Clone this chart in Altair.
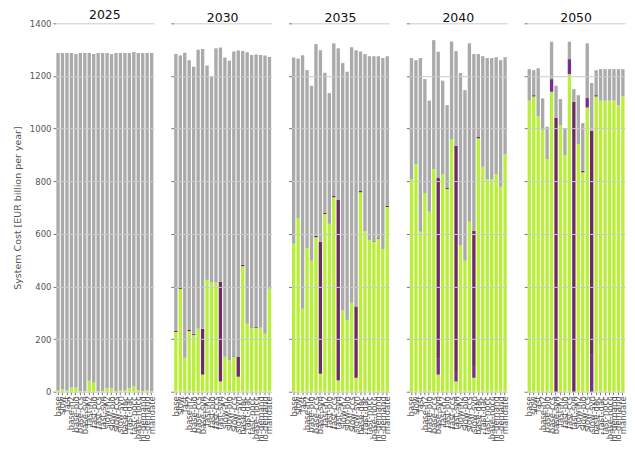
import altair as alt
import pandas as pd

years = ["2025", "2030", "2035", "2040", "2050"]
scenarios = ["base", "slow", "fast", "base-h2", "base-bio", "base-ccs", "base-syn",
             "fast-h2", "fast-bio", "fast-ccs", "fast-syn", "slow-h2", "slow-bio",
             "slow-ccs", "slow-syn", "base-dac", "fast-dac", "fast-nocc",
             "base-nocc", "hi-demand", "lo-demand", "mandate"]
components = ["Renewables", "Carbon capture", "Synthetic fuels", "Other costs"]
colors = ["#b9ef3a", "#7b2d8c", "#6c2c63", "#aaaaaa"]

totals = {
    "2025": [1287, 1287, 1287, 1287, 1283, 1287, 1287, 1287, 1283, 1287, 1287, 1287, 1283,
             1287, 1287, 1287, 1287, 1291, 1287, 1287, 1287, 1287],
    "2030": [1283, 1278, 1288, 1260, 1235, 1300, 1302, 1240, 1198, 1305, 1308, 1270, 1258,
             1293, 1297, 1295, 1290, 1280, 1282, 1280, 1278, 1272],
    "2035": [1270, 1266, 1279, 1222, 1163, 1321, 1298, 1212, 1135, 1324, 1305, 1249, 1216,
             1309, 1298, 1293, 1283, 1275, 1275, 1275, 1268, 1275],
    "2040": [1268, 1260, 1268, 1188, 1106, 1336, 1292, 1182, 1089, 1331, 1294, 1211, 1146,
             1324, 1283, 1283, 1275, 1268, 1268, 1271, 1260, 1271],
    "2050": [1226, 1222, 1229, 1115, 1007, 1330, 1163, 1112, 1001, 1330, 1150, 1127, 1021,
             1324, 1173, 1222, 1226, 1226, 1226, 1226, 1226, 1226],
}
green = {
    "2025": [5, 9, 5, 16, 16, 2, 2, 42, 35, 3, 3, 13, 13, 2, 5, 5, 13, 20, 6, 3, 6, 3],
    "2030": [227, 391, 129, 230, 216, 239, 65, 425, 415, 415, 39, 133, 119, 134, 57, 477,
             258, 240, 243, 243, 220, 391],
    "2035": [562, 660, 315, 546, 498, 587, 68, 675, 638, 739, 43, 309, 273, 338, 53, 758,
             610, 577, 571, 582, 545, 702],
    "2040": [808, 865, 608, 755, 684, 846, 65, 827, 770, 960, 39, 558, 498, 646, 53, 963,
             855, 808, 808, 827, 779, 903],
    "2050": [1106, 1122, 1046, 995, 884, 1140, 0, 1013, 899, 1207, 0, 941, 834, 1080, 0,
             1122, 1106, 1106, 1106, 1106, 1089, 1122],
}
violet = {
    "2025": [0] * 22,
    "2030": [0] * 22,
    "2035": [0] * 22,
    "2040": [0, 0, 0, 0, 0, 0, 60, 0, 0, 0, 40, 0, 0, 0, 45, 0, 0, 0, 0, 0, 0, 0],
    "2050": [0, 0, 0, 0, 0, 48, 0, 0, 0, 57, 0, 0, 0, 36, 140, 0, 0, 0, 0, 0, 0, 0],
}
purple = {
    "2025": [0] * 22,
    "2030": [5, 7, 0, 5, 4, 0, 174, 0, 0, 0, 379, 0, 0, 3, 76, 5, 0, 0, 4, 0, 0, 0],
    "2035": [0, 0, 0, 0, 0, 6, 502, 5, 0, 5, 686, 0, 0, 0, 271, 5, 0, 0, 2, 2, 3, 5],
    "2040": [0, 0, 0, 0, 0, 0, 687, 0, 4, 0, 856, 0, 0, 0, 514, 5, 0, 0, 0, 0, 0, 0],
    "2050": [0, 5, 0, 0, 0, 0, 1040, 0, 0, 0, 1102, 0, 5, 0, 852, 5, 0, 0, 0, 0, 0, 0],
}

rows = []
for yr in years:
    for i, sc in enumerate(scenarios):
        g, v, p = green[yr][i], violet[yr][i], purple[yr][i]
        other = totals[yr][i] - g - v - p
        for k, (comp, val) in enumerate(zip(components, [g, v, p, other])):
            rows.append({"year": yr, "scenario": sc, "component": comp,
                         "value": val, "order": k})
df = pd.DataFrame(rows)


def panel(idx, yr):
    first = idx == 0
    yaxis_kw = dict(values=list(range(0, 1401, 200)), format="d", grid=True,
                    gridColor="#cccccc", gridWidth=1, domain=False, tickSize=3,
                    tickColor="#777777", labels=first, labelFontSize=8.5,
                    labelColor="#555555", labelPadding=2, zindex=1)
    if first:
        yaxis_kw.update(title="System Cost [EUR billion per year]", titleFontSize=9.5,
                        titleColor="#555555", titleFontWeight="normal", titlePadding=7)
    y_kw = dict(stack="zero", scale=alt.Scale(domain=[0, 1400], nice=False),
                axis=alt.Axis(**yaxis_kw))
    if not first:
        y_kw["title"] = None
    return alt.Chart(df[df["year"] == yr]).mark_bar().encode(
        x=alt.X("scenario:N", sort=scenarios, title=None,
                scale=alt.Scale(paddingInner=0.25, paddingOuter=0.1),
                axis=alt.Axis(labelAngle=-90, labelFontSize=8.5, labelColor="#555555",
                              domain=False, tickSize=3, tickColor="#777777",
                              labelPadding=1, labelOverlap=False, labelLimit=48)),
        y=alt.Y("value:Q", **y_kw),
        color=alt.Color("component:N", sort=components,
                        scale=alt.Scale(domain=components, range=colors), legend=None),
        order=alt.Order("order:Q", sort="ascending"),
        tooltip=["scenario", "component", "value"],
    ).properties(
        width=98, height=369,
        title=alt.TitleParams(text=yr, fontSize=12.5, fontWeight=400, color="#111111",
                              offset=-2, frame="group"),
    )


chart = alt.hconcat(*[panel(i, y) for i, y in enumerate(years)], spacing=14).properties(
    padding={"left": 4, "top": 0, "right": 0, "bottom": 0}
).configure(font="DejaVu Sans").configure_view(stroke=None).configure_title(
    fontWeight=400)

chart.save("out.html", embed_options={"renderer": "svg", "actions": False})
